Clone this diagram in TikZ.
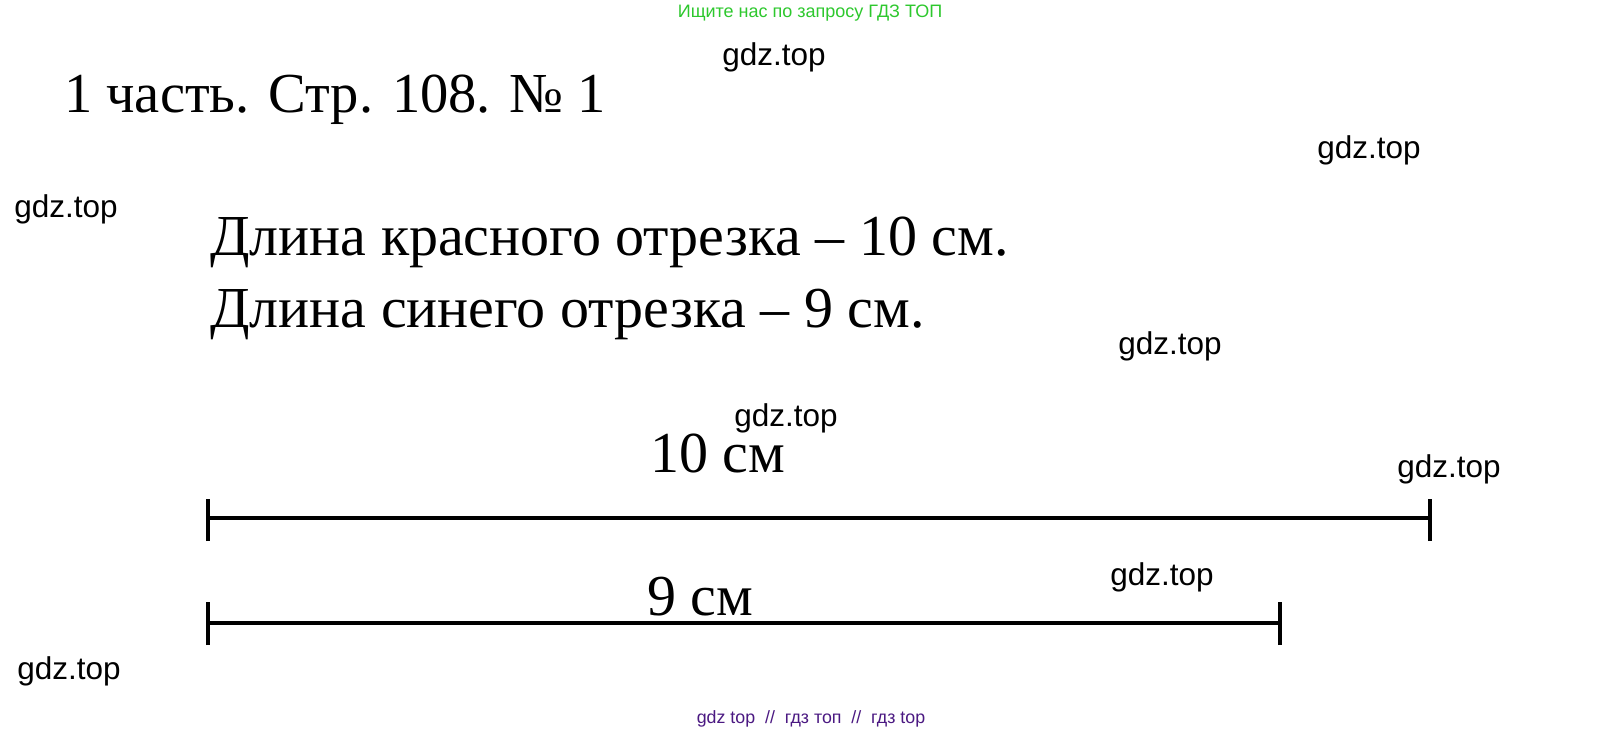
\documentclass[tikz,border=0pt]{standalone}
\usepackage{fontspec}
\setmainfont{Liberation Serif}
\newfontfamily\wmfont{Liberation Sans}
\definecolor{wmgreen}{RGB}{45,200,45}
\definecolor{wmpurple}{RGB}{75,25,130}
\begin{document}
\begin{tikzpicture}[x=1pt,y=-1pt,
  serifbig/.style={inner sep=0pt,anchor=base west,font=\fontsize{58}{58}\selectfont},
  wm/.style={inner sep=0pt,anchor=base,font=\wmfont\fontsize{31.5}{31.5}\selectfont},
  seg/.style={line width=4pt},
  tickmark/.style={line width=4pt}]
\useasboundingbox[fill=white] (0,0) rectangle (1622,732);
% header watermark
\node[inner sep=0pt,anchor=base,text=wmgreen,font=\wmfont\fontsize{18}{18}\selectfont] (hdr) at (810,17) {Ищите нас по запросу ГДЗ ТОП};
\node[inner sep=0pt,anchor=base,text=wmpurple,font=\wmfont\fontsize{17.8}{17.8}\selectfont] (ftr) at (811,723) {gdz top \ // \ гдз топ \ // \ гдз top};
% title and texts
\node[serifbig,font=\fontsize{56.5}{56.5}\selectfont] (title) at (64,112) {1 часть. Стр. 108. № 1};
\node[serifbig] (l1) at (210,255) {Длина красного отрезка – 10 см.};
\node[serifbig] (l2) at (210,327) {Длина синего отрезка – 9 см.};
\node[serifbig] (lab1) at (650,472) {10 см};
\node[serifbig] (lab2) at (647,615) {9 см};
% segments
\coordinate (a1) at (208,518);
\coordinate (b1) at (1430,518);
\coordinate (a2) at (208,623);
\coordinate (b2) at (1280,623);
\draw[seg] (a1) -- (b1);
\draw[seg] (a2) -- (b2);
\draw[tickmark] ([yshift=-23pt]a1) -- ([yshift=19pt]a1);
\draw[tickmark] ([yshift=-23pt]b1) -- ([yshift=19pt]b1);
\draw[tickmark] ([yshift=-22pt]a2) -- ([yshift=21pt]a2);
\draw[tickmark] ([yshift=-22pt]b2) -- ([yshift=21pt]b2);
% gdz.top watermarks
\node[wm] (w1) at (774,65) {gdz.top};
\node[wm] (w2) at (1369,158) {gdz.top};
\node[wm] (w3) at (66,217) {gdz.top};
\node[wm] (w4) at (1170,354) {gdz.top};
\node[wm] (w5) at (786,426) {gdz.top};
\node[wm] (w6) at (1449,477) {gdz.top};
\node[wm] (w7) at (1162,585) {gdz.top};
\node[wm] (w8) at (69,679) {gdz.top};
\end{tikzpicture}
\end{document}
